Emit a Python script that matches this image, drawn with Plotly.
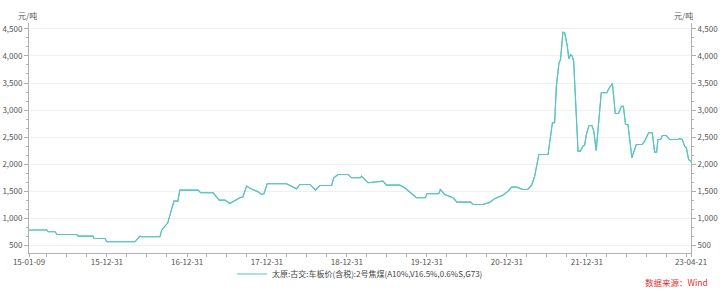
import plotly.graph_objects as go
import pandas as pd

# Series: 太原:古交:车板价(含税):2号焦煤 (元/吨)
dates = [
    "2015-01-09", "2015-03-31", "2015-04-06", "2015-05-08", "2015-05-17", "2015-08-15",
    "2015-08-21", "2015-10-28", "2015-11-02", "2015-12-22", "2015-12-30", "2016-05-07",
    "2016-05-30", "2016-06-08", "2016-08-29", "2016-09-06", "2016-10-04", "2016-10-21",
    "2016-11-01", "2016-11-19", "2016-11-28",
    "2017-02-20", "2017-03-03", "2017-04-29", "2017-05-27", "2017-06-22", "2017-07-14",
    "2017-08-29", "2017-09-12", "2017-09-29", "2017-10-26", "2017-11-21", "2017-12-06",
    "2017-12-17", "2018-01-01", "2018-03-30", "2018-05-15", "2018-05-30", "2018-07-15",
    "2018-08-10", "2018-08-29", "2018-10-22", "2018-11-01", "2018-11-21",
    "2019-01-06", "2019-01-21", "2019-03-03", "2019-03-08", "2019-04-07", "2019-06-14",
    "2019-06-30", "2019-08-30", "2019-09-21", "2019-11-14", "2019-12-25", "2020-01-01",
    "2020-02-24", "2020-03-02", "2020-03-22", "2020-04-29", "2020-05-17", "2020-07-19",
    "2020-07-29", "2020-09-13", "2020-10-13", "2020-11-05", "2020-12-12", "2021-01-03",
    "2021-01-22", "2021-02-14", "2021-03-13", "2021-04-05", "2021-04-23", "2021-05-07",
    "2021-05-26", "2021-07-07", "2021-07-14", "2021-07-27", "2021-08-06", "2021-08-14",
    "2021-08-26", "2021-09-02", "2021-09-13", "2021-09-21", "2021-10-03", "2021-10-10",
    "2021-10-18", "2021-10-25", "2021-11-01", "2021-11-21", "2021-12-01", "2021-12-13",
    "2021-12-21", "2021-12-29", "2022-01-10", "2022-01-23", "2022-02-01", "2022-02-12",
    "2022-03-07", "2022-04-02", "2022-04-10", "2022-04-27", "2022-05-10", "2022-05-25",
    "2022-06-07", "2022-06-16", "2022-06-26", "2022-07-07", "2022-07-25", "2022-08-14",
    "2022-09-10", "2022-09-21", "2022-10-09", "2022-10-26", "2022-11-06", "2022-11-15",
    "2022-11-21", "2022-12-03", "2022-12-11", "2022-12-29", "2023-01-13", "2023-02-20",
    "2023-02-28", "2023-03-12", "2023-03-23", "2023-03-31", "2023-04-10", "2023-04-21",
]
prices = [
    780, 780, 748, 748, 698, 698,
    667, 667, 624, 624, 563, 563,
    667, 655, 655, 777, 914, 1160,
    1314, 1314, 1518,
    1518, 1469, 1469, 1333, 1333, 1271,
    1377, 1390, 1592, 1530, 1488, 1438,
    1450, 1636, 1636, 1543, 1623, 1623,
    1518, 1604, 1604, 1746, 1808,
    1808, 1746, 1746, 1777, 1654, 1684,
    1610, 1610, 1562, 1377, 1377, 1451,
    1451, 1530, 1438, 1377, 1296, 1296,
    1253, 1253, 1290, 1360, 1425, 1490,
    1573, 1573, 1530, 1530, 1610, 1776,
    2178, 2178, 2363, 2764, 2764, 3442,
    3874, 3935, 4440, 4430, 4182, 3948,
    4028, 4000, 3904, 2239, 2239, 2332,
    2345, 2548, 2715, 2715, 2610, 2250,
    3320, 3320, 3394, 3491, 2936, 2936,
    3071, 3071, 2733, 2733, 2117, 2363,
    2363, 2424, 2579, 2579, 2221, 2221,
    2455, 2455, 2529, 2529, 2455, 2455,
    2473, 2455, 2332, 2302, 2085, 2050,
]

series_name = "太原:古交:车板价(含税):2号焦煤(A10%,V16.5%,0.6%S,G73)"
x_tick_dates = ["2015-01-09", "2015-12-31", "2016-12-31", "2017-12-31", "2018-12-31",
                "2019-12-31", "2020-12-31", "2021-12-31", "2023-04-21"]
x_tick_text = ["15-01-09", "15-12-31", "16-12-31", "17-12-31", "18-12-31",
               "19-12-31", "20-12-31", "21-12-31", "23-04-21"]
y_ticks = [500, 1000, 1500, 2000, 2500, 3000, 3500, 4000, 4500]

minor_x = [d.strftime("%Y-%m-%d") for d in pd.date_range("2015-03-31", "2023-03-31", freq="QE")]

line_color = "#5cc3c3"
font_family = "Noto Sans CJK SC, Noto Sans, sans-serif"
axis_color = "#b0b0b0"
tick_font = dict(family=font_family, size=8, color="#555555")
yrange = [355, 4610]

fig = go.Figure()
fig.add_trace(go.Scatter(x=dates, y=prices, mode="lines", name=series_name,
                         line=dict(color=line_color, width=1.1), yaxis="y"))
fig.add_trace(go.Scatter(x=dates, y=prices, mode="lines", name=series_name,
                         line=dict(color=line_color, width=1.1), yaxis="y2",
                         showlegend=False, hoverinfo="skip"))

fig.update_layout(
    width=720, height=290,
    margin=dict(l=29, r=29, t=23, b=37, autoexpand=False),
    paper_bgcolor="white", plot_bgcolor="white",
    font=dict(family=font_family, size=8, color="#555555"),
    showlegend=True,
    legend=dict(orientation="h", x=0.5, xanchor="center",
                yref="container", y=1 - 274 / 290, yanchor="middle",
                font=dict(family=font_family, size=8, color="#444444"),
                itemwidth=30, bgcolor="rgba(0,0,0,0)"),
    xaxis=dict(
        type="date", range=["2015-01-09", "2023-04-21"], automargin=False,
        tickmode="array", tickvals=x_tick_dates, ticktext=x_tick_text,
        showgrid=False, showline=True, linecolor=axis_color, linewidth=1,
        ticks="outside", ticklen=3, tickcolor=axis_color, tickfont=tick_font,
        ticklabelstandoff=-2,
        minor=dict(tickmode="array", tickvals=minor_x, ticks="outside", ticklen=3,
                   tickcolor=axis_color, showgrid=False),
        zeroline=False,
    ),
    yaxis=dict(
        range=yrange, tickmode="array", tickvals=y_ticks, tickformat=",d", automargin=False,
        showgrid=True, gridcolor="#efefef", gridwidth=1,
        showline=True, linecolor=axis_color, linewidth=1,
        ticks="outside", ticklen=4, tickcolor=axis_color, tickfont=tick_font,
        minor=dict(dtick=500 / 3, tick0=0, ticks="outside", ticklen=2,
                   tickcolor=axis_color, showgrid=False),
        zeroline=False,
    ),
    yaxis2=dict(
        range=yrange, overlaying="y", side="right", tickmode="array", tickvals=y_ticks,
        tickformat=",d", showgrid=False, automargin=False,
        showline=True, linecolor=axis_color, linewidth=1,
        ticks="outside", ticklen=4, tickcolor=axis_color, tickfont=tick_font,
        minor=dict(dtick=500 / 3, tick0=0, ticks="outside", ticklen=2,
                   tickcolor=axis_color, showgrid=False),
        zeroline=False,
    ),
)

fig.add_annotation(text="元/吨", xref="paper", yref="paper", x=-0.003, y=1.033,
                   xanchor="center", yanchor="middle", showarrow=False,
                   font=dict(family=font_family, size=8, color="#555555"))
fig.add_annotation(text="元/吨", xref="paper", yref="paper", x=0.988, y=1.033,
                   xanchor="center", yanchor="middle", showarrow=False,
                   font=dict(family=font_family, size=8, color="#555555"))
fig.add_annotation(text="数据来源：Wind", xref="paper", yref="paper", x=1.028, y=-0.127,
                   xanchor="right", yanchor="middle", showarrow=False,
                   font=dict(family=font_family, size=8.5, color="#e03030"))

fig.write_html("out.html")
